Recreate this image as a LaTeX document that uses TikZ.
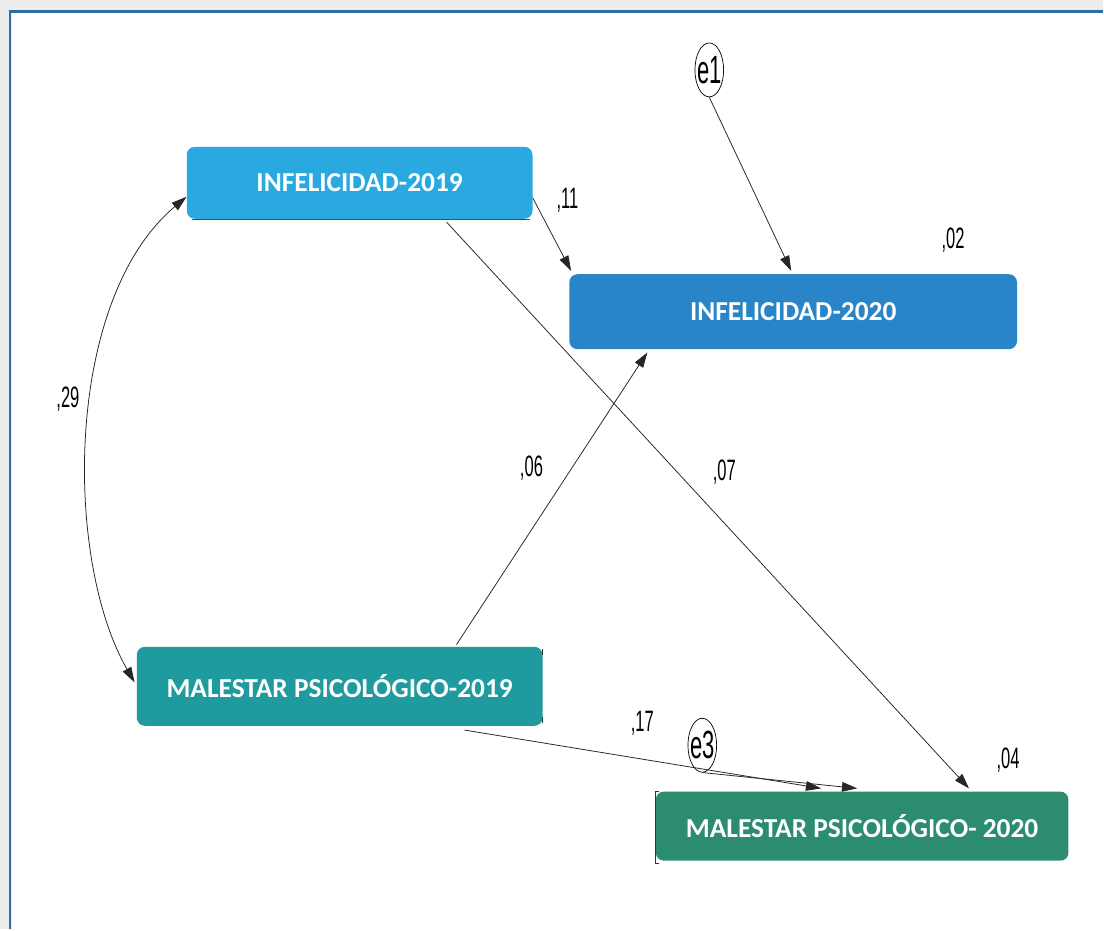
\documentclass[tikz,border=0pt]{standalone}
\usepackage{fontspec}
\usetikzlibrary{arrows.meta,calc,shapes.geometric}
\newfontfamily\boxfont{Carlito}
\newfontfamily\labfont[FakeStretch=0.56]{Liberation Sans}
\definecolor{pagegrey}{HTML}{ECEDED}
\definecolor{frameblue}{HTML}{2E6DA4}
\definecolor{infA}{HTML}{2AA9E0}
\definecolor{infB}{HTML}{2A85C8}
\definecolor{malA}{HTML}{1F9B9F}
\definecolor{malB}{HTML}{2B8C70}
\begin{document}
\begin{tikzpicture}[x=0.025cm,y=-0.025cm,
    box/.style={rounded corners=0.2cm, inner sep=0pt, text=white,
      font=\boxfont\bfseries\fontsize{19.5}{19.5}\selectfont},
    coef/.style={inner sep=0pt, font=\labfont\fontsize{21}{21}\selectfont},
    err/.style={ellipse, draw, line width=0.5pt, inner xsep=-1.5pt, inner ysep=0pt,
      minimum height=1.35cm, font=\labfont\fontsize{28}{28}\selectfont}]
  % page and frame
  \fill[pagegrey] (0,0) rectangle (1104,930);
  \fill[white] (12,13) rectangle (1104,930);
  \draw[frameblue, line width=1.6pt] (10,930) -- (10,11.5) -- (1104,11.5);
  \begin{scope}[every node/.style={box}]
    \node[fill=infA, minimum width=8.65cm, minimum height=1.8cm] (i19) at (360,183) {INFELICIDAD-2019};
    \node[fill=infB, minimum width=11.2cm, minimum height=1.875cm] (i20) at (794,312) {INFELICIDAD-2020};
    \node[fill=malA, minimum width=10.15cm, minimum height=1.975cm] (m19) at (340,687) {MALESTAR PSICOLÓGICO-2019};
    \node[fill=malB, minimum width=10.325cm, minimum height=1.725cm] (m20) at (863,827) {MALESTAR PSICOLÓGICO- 2020};
  \end{scope}
  % selection marks
  \draw[black!70, line width=0.6pt] (192,220) -- (531,220);
  \draw[black!80, line width=0.6pt] (660,792) -- (656,792) -- (656,864) -- (660,864);
  \draw[black!80, line width=0.6pt] (543,650) -- (543,656) (543,718) -- (543,724);
  \node[err] (e1) at (710,70) {e1};
  \node[err] (e3) at (703,746) {e3};
  \begin{scope}[every node/.style={coef}]
    \node (c11) at (568,200) {,11};
    \node (c02) at (954,240) {,02};
    \node (c29) at (68,399) {,29};
    \node (c06) at (532,469) {,06};
    \node (c07) at (725,473) {,07};
    \node (c17) at (643,724) {,17};
    \node (c04) at (1009,761) {,04};
  \end{scope}
  \begin{scope}[every edge/.style={draw=black!85, line width=0.55pt,
      -{Triangle[length=0.38cm,width=0.24cm]}}]
    \path (i19.-5) edge ($(i20.north west)+(2,-3)$);
    \path ($(i19.south)+(87,3)$) edge ($(m20.north)+(107,-3)$);
    \path (e1.south) edge ($(i20.north)+(-2,-3)$);
    \path ($(m19.north)+(117,-2)$) edge ($(i20.south)+(-146,3)$);
    \path ($(m19.south)+(125,4)$) edge ($(m20.north)+(-41,-3)$);
    \path (e3.south) edge ($(m20.north)+(-5,-3)$);
  \end{scope}
  \draw[black!85, line width=0.55pt,
    {Triangle[length=0.38cm,width=0.24cm]}-{Triangle[length=0.38cm,width=0.24cm]}]
    ($(i19.west)+(0,14)$) .. controls (64,300) and (64,560) .. ($(m19.west)+(-2,-4)$);
\end{tikzpicture}
\end{document}
